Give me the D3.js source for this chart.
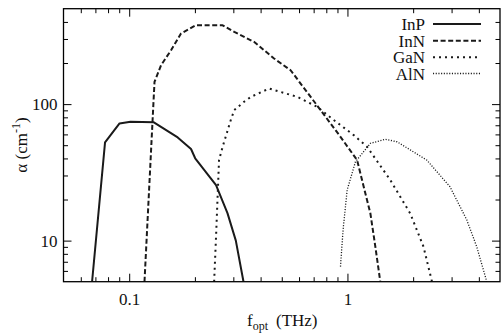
<!DOCTYPE html>
<html>
<head>
<meta charset="utf-8">
<script src="https://cdn.jsdelivr.net/npm/d3@7"></script>
<style>
  html, body { margin: 0; padding: 0; background: #fff; }
  svg { display: block; font-family: "Liberation Serif", "DejaVu Serif", serif; }
</style>
</head>
<body>
<svg id="chart" width="502" height="336"></svg>
<script>
// ---- data ----
const inpX = [0.0676, 0.0775, 0.0903, 0.1014, 0.1297, 0.1668, 0.192, 0.2006, 0.25, 0.282, 0.308, 0.334];
const inpY = [5, 52.5, 72.2, 74.3, 73.5, 57, 46.9, 40.1, 25.5, 15.9, 10, 5];

const innX = [0.1175, 0.1306, 0.140, 0.1555, 0.1727, 0.202, 0.268, 0.303, 0.373, 0.461, 0.549, 0.753, 0.929, 1.107, 1.187, 1.274, 1.342, 1.414];
const innY = [5, 145.6, 193, 248, 329, 378, 378, 338, 286, 216, 177, 90.4, 57.6, 38.9, 24.8, 15.8, 9.04, 5];

const ganX = [0.245, 0.25, 0.258, 0.268, 0.292, 0.303, 0.336, 0.361, 0.438, 0.589, 0.727, 0.866, 1.068, 1.23, 1.571, 1.94, 2.23, 2.44];
const ganY = [5, 10.7, 38.9, 48.7, 76.4, 90.4, 104, 113, 130, 113, 95.5, 76.4, 59.3, 48.7, 27.8, 15.8, 9.04, 5];

const alnX = [0.929, 0.955, 0.997, 1.088, 1.274, 1.491, 1.686, 2.31, 2.95, 3.52, 3.91, 4.35];
const alnY = [6.45, 12.0, 23.5, 37.8, 51.6, 55.2, 53, 38.9, 24.8, 14.2, 9.04, 5];

const seriesNames = ["InP", "InN", "GaN", "AlN"];
const xMajorTicks = [0.1, 1];
const xMinorTicks = [0.06, 0.07, 0.08, 0.09, 0.2, 0.3, 0.4, 0.5, 0.6, 0.7, 0.8, 0.9, 2, 3, 4];
const yMajorTicks = [10, 100];
const yMinorTicks = [6, 7, 8, 9, 20, 30, 40, 50, 60, 70, 80, 90, 200, 300, 400];
const xDomain = [0.05, 5];
const yDomain = [5, 500];

// ---- layout ----
const L = 63.5, R = 500, T = 8.7, B = 281.7;
const svg = d3.select("#chart");
const x = d3.scaleLog().domain(xDomain).range([L, R]);
const y = d3.scaleLog().domain(yDomain).range([B, T]);

const styles = [
  { dash: null, width: 2 },
  { dash: "5,2.6", width: 2 },
  { dash: "2,4", width: 2 },
  { dash: "1.1,1.6", width: 1.3 }
];
const seriesData = [
  d3.zip(inpX, inpY), d3.zip(innX, innY), d3.zip(ganX, ganY), d3.zip(alnX, alnY)
];

svg.append("defs").append("clipPath").attr("id", "clip")
  .append("rect").attr("x", L).attr("y", T).attr("width", R - L).attr("height", B - T);

const line = d3.line().x(d => x(d[0])).y(d => y(d[1]));
const plot = svg.append("g").attr("clip-path", "url(#clip)");
seriesData.forEach((d, i) => {
  plot.append("path").datum(d)
    .attr("d", line)
    .attr("fill", "none")
    .attr("stroke", "#1a1a1a")
    .attr("stroke-width", styles[i].width)
    .attr("stroke-dasharray", styles[i].dash)
    .attr("stroke-linejoin", "round");
});

// ---- axes ----
const MAJ = 8, MIN = 4.5;
function styleAxis(g) {
  g.select(".domain").remove();
  g.selectAll(".tick line").attr("stroke", "#000").attr("stroke-width", 1);
  g.selectAll("text").attr("fill", "#111").style("font-size", "17px").style("font-family", "Liberation Serif, serif");
}
const fmt = d => (d < 1 ? d3.format(".1f")(d) : d3.format("d")(d));

svg.append("g").attr("transform", `translate(0,${B})`)
  .call(d3.axisBottom(x).tickValues(xMajorTicks).tickSize(-MAJ).tickPadding(11).tickFormat(fmt)).call(styleAxis);
svg.append("g").attr("transform", `translate(0,${B})`)
  .call(d3.axisBottom(x).tickValues(xMinorTicks).tickSize(-MIN).tickFormat("")).call(styleAxis);
svg.append("g").attr("transform", `translate(0,${T})`)
  .call(d3.axisTop(x).tickValues(xMajorTicks).tickSize(-MAJ).tickFormat("")).call(styleAxis);
svg.append("g").attr("transform", `translate(0,${T})`)
  .call(d3.axisTop(x).tickValues(xMinorTicks).tickSize(-MIN).tickFormat("")).call(styleAxis);

svg.append("g").attr("transform", `translate(${L},0)`)
  .call(d3.axisLeft(y).tickValues(yMajorTicks).tickSize(-MAJ).tickPadding(6).tickFormat(d3.format("d"))).call(styleAxis);
svg.append("g").attr("transform", `translate(${L},0)`)
  .call(d3.axisLeft(y).tickValues(yMinorTicks).tickSize(-MIN).tickFormat("")).call(styleAxis);
svg.append("g").attr("transform", `translate(${R},0)`)
  .call(d3.axisRight(y).tickValues(yMajorTicks).tickSize(-MAJ).tickFormat("")).call(styleAxis);
svg.append("g").attr("transform", `translate(${R},0)`)
  .call(d3.axisRight(y).tickValues(yMinorTicks).tickSize(-MIN).tickFormat("")).call(styleAxis);

// frame
svg.append("rect").attr("x", L).attr("y", T).attr("width", R - L).attr("height", B - T)
  .attr("fill", "none").attr("stroke", "#000").attr("stroke-width", 1.3);

// ---- axis labels ----
const xl = svg.append("text").attr("x", 247).attr("y", 326)
  .style("font-size", "17px").attr("fill", "#111");
xl.append("tspan").attr("fill", "#111").text("f");
xl.append("tspan").attr("fill", "#111").attr("dy", 4).style("font-size", "12px").text("opt");
xl.append("tspan").attr("fill", "#111").attr("x", 276).attr("dy", -4).text("(THz)");

const yl = svg.append("text")
  .attr("transform", "translate(26.5,145) rotate(-90)")
  .attr("text-anchor", "middle")
  .style("font-size", "17px").attr("fill", "#111");
yl.append("tspan").attr("fill", "#111").text("α (cm");
yl.append("tspan").attr("fill", "#111").attr("dy", -7).style("font-size", "12px").text("-1");
yl.append("tspan").attr("fill", "#111").attr("dy", 7).text(")");

// ---- legend ----
const legTextX = 425, legLineX1 = 433, legLineX2 = 481;
const legBase = [30, 46.7, 63.3, 79.5];
seriesNames.forEach((name, i) => {
  svg.append("text").attr("x", legTextX).attr("y", legBase[i])
    .attr("text-anchor", "end").style("font-size", "17px").attr("fill", "#111").text(name);
  svg.append("line")
    .attr("x1", legLineX1).attr("x2", legLineX2)
    .attr("y1", legBase[i] - 6).attr("y2", legBase[i] - 6)
    .attr("stroke", "#1a1a1a").attr("stroke-width", styles[i].width)
    .attr("stroke-dasharray", styles[i].dash);
});
</script>
</body>
</html>
